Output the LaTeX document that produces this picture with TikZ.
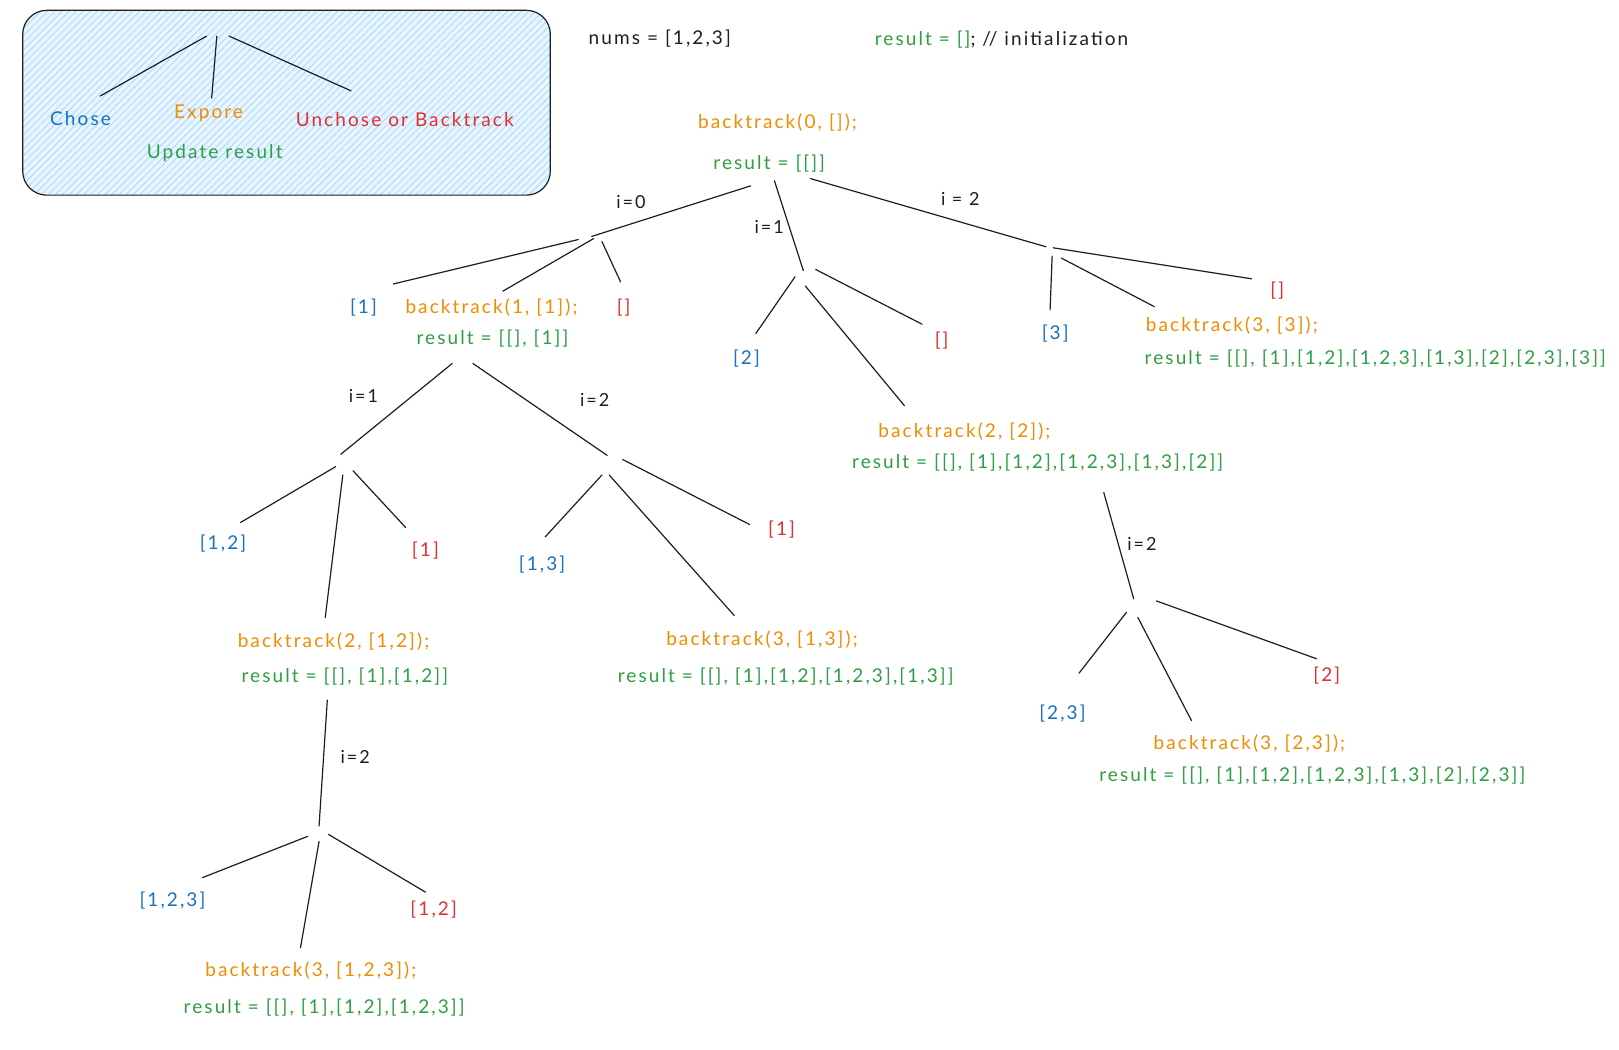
\documentclass[tikz,border=0pt]{standalone}
\usepackage{fontspec}
\setmainfont[LetterSpace=11]{Lato}
\usetikzlibrary{patterns.meta}
\definecolor{cblue}{HTML}{1971C2}
\definecolor{corange}{HTML}{F08C00}
\definecolor{cgreen}{HTML}{2F9E44}
\definecolor{cred}{HTML}{E03131}
\definecolor{cink}{HTML}{1E1E1E}
\definecolor{hatch}{HTML}{A5D8FF}
\begin{document}
\begin{tikzpicture}[x=1.0325pt,y=-1.0325pt,
  txt/.style={font=\fontsize{19}{22}\selectfont,inner sep=0pt,anchor=center},
  lbl/.style={txt,text=cink,font=\fontsize{18}{21}\selectfont},
  chosen/.style={txt,text=cblue},
  explore/.style={txt,text=corange},
  upd/.style={txt,text=cgreen},
  unchosen/.style={txt,text=cred},
  edge/.style={draw=cink,line width=1.2pt,line cap=round}]
\useasboundingbox (0,0) rectangle (1568,1016);
\fill[white] (0,0) rectangle (1568,1016);
% legend box
\path[fill=hatch!25,rounded corners=24] (22,10) rectangle (533,189);
\path[pattern={Lines[angle=45,distance=5pt,line width=0.8pt]},pattern color=hatch,rounded corners=24] (22,10) rectangle (533,189);
\draw[cink,line width=1.2pt,rounded corners=24] (22,10) rectangle (533,189);
\node[chosen] (lgC) at (78,115) {Chose};
\node[explore] (lgE) at (202,110) {Expore};
\node[unchosen] (lgU) at (392,116) {Unchose or Backtrack};
\node[upd] (lgR) at (208,148) {Update result};
\coordinate (lgT1) at (200,35); \coordinate (lgT2) at (210,35); \coordinate (lgT3) at (222,35);
\coordinate (lgE1) at (97,93); \coordinate (lgE2) at (205,95); \coordinate (lgE3) at (340,88);
\draw[edge] (lgT1) -- (lgE1);
\draw[edge] (lgT2) -- (lgE2);
\draw[edge] (lgT3) -- (lgE3);
% header
\node[txt,text=cink] (nums) at (639,37) {nums = [1,2,3]};
\node[txt,text=cink] (init) at (970,38) {\textcolor{cgreen}{result = []}; // initialization};
% root
\node[explore] (r0) at (753,119) {backtrack(0, []);};
\node[upd] (r0r) at (745,158) {result = [[]]};
% level 1 junctions
\coordinate (jA) at (573,229);
\coordinate (jB) at (778,262);
\coordinate (jC) at (1013,239);
\coordinate (r0a) at (727,180); \coordinate (r0b) at (750,175); \coordinate (r0c) at (785,173);
\draw[edge] (r0a) -- (jA);
\node[lbl] (l0) at (611,196) {i=0};
\draw[edge] (r0b) -- (jB);
\node[lbl] (l1) at (745,220) {i=1};
\draw[edge] (r0c) -- (jC);
\node[lbl] (l2) at (930,193) {i = 2};
% children of A
\node[chosen] (a1) at (352,298) {[1]};
\node[explore] (a2) at (476,298) {backtrack(1, [1]);};
\node[upd] (a2r) at (477,328) {result = [[], [1]]};
\node[unchosen] (a3) at (604,298) {[]};
\coordinate (a1e) at (381,275); \coordinate (a2e) at (487,282); \coordinate (a3e) at (601,273);
\coordinate (jA1) at (560,232); \coordinate (jA2) at (575,231); \coordinate (jA3) at (583,234);
\draw[edge] (jA1) -- (a1e);
\draw[edge] (jA2) -- (a2e);
\draw[edge] (jA3) -- (a3e);
% children of B
\node[chosen] (b1) at (723,347) {[2]};
\node[explore] (b2) at (934,418) {backtrack(2, [2]);};
\node[upd] (b2r) at (1005,448) {result = [[], [1],[1,2],[1,2,3],[1,3],[2]]};
\node[unchosen] (b3) at (912,330) {[]};
\coordinate (jB1) at (770,268); \coordinate (jB2) at (780,277); \coordinate (jB3) at (790,261);
\coordinate (b1e) at (732,323); \coordinate (b2e) at (876,393); \coordinate (b3e) at (893,314);
\draw[edge] (jB1) -- (b1e);
\draw[edge] (jB2) -- (b2e);
\draw[edge] (jB3) -- (b3e);
% children of C
\node[chosen] (c1) at (1022,323) {[3]};
\node[explore] (c2) at (1193,315) {backtrack(3, [3]);};
\node[upd] (c2r) at (1332,347) {result = [[], [1],[1,2],[1,2,3],[1,3],[2],[2,3],[3]]};
\node[unchosen] (c3) at (1237,281) {[]};
\coordinate (jC1) at (1019,248); \coordinate (jC2) at (1028,250); \coordinate (jC3) at (1020,240);
\coordinate (c1e) at (1017,300); \coordinate (c2e) at (1118,297); \coordinate (c3e) at (1212,270);
\draw[edge] (jC1) -- (c1e);
\draw[edge] (jC2) -- (c2e);
\draw[edge] (jC3) -- (c3e);
% from result [[],[1]]
\coordinate (a2s1) at (438,352); \coordinate (a2s2) at (458,352);
\coordinate (jD) at (330,440); \coordinate (jE) at (588,441);
\draw[edge] (a2s1) -- (jD);
\draw[edge] (a2s2) -- (jE);
\node[lbl] (l11) at (352,383) {i=1};
\node[lbl] (l12) at (576,387) {i=2};
% children of D
\node[chosen] (d1) at (216,526) {[1,2]};
\node[explore] (d2) at (323,621) {backtrack(2, [1,2]);};
\node[upd] (d2r) at (334,655) {result = [[], [1],[1,2]]};
\node[unchosen] (d3) at (412,533) {[1]};
\coordinate (jD1) at (325,452); \coordinate (jD2) at (332,460); \coordinate (jD3) at (342,456);
\coordinate (d1e) at (233,506); \coordinate (d2e) at (315,598); \coordinate (d3e) at (393,511);
\draw[edge] (jD1) -- (d1e);
\draw[edge] (jD2) -- (d2e);
\draw[edge] (jD3) -- (d3e);
% children of E
\node[chosen] (e1) at (525,547) {[1,3]};
\node[explore] (e2) at (738,619) {backtrack(3, [1,3]);};
\node[upd] (e2r) at (761,655) {result = [[], [1],[1,2],[1,2,3],[1,3]]};
\node[unchosen] (e3) at (757,513) {[1]};
\coordinate (jE1) at (583,460); \coordinate (jE2) at (590,460); \coordinate (jE3) at (603,445);
\coordinate (e1e) at (528,520); \coordinate (e2e) at (711,596); \coordinate (e3e) at (726,508);
\draw[edge] (jE1) -- (e1e);
\draw[edge] (jE2) -- (e2e);
\draw[edge] (jE3) -- (e3e);
% from result [[],[1],[1,2]]
\coordinate (d2s) at (317,678); \coordinate (jF) at (309,800);
\draw[edge] (d2s) -- (jF);
\node[lbl] (l22) at (344,733) {i=2};
\node[chosen] (f1) at (167,872) {[1,2,3]};
\node[explore] (f2) at (301,940) {backtrack(3, [1,2,3]);};
\node[upd] (f2r) at (314,976) {result = [[], [1],[1,2],[1,2,3]]};
\node[unchosen] (f3) at (420,881) {[1,2]};
\coordinate (jF1) at (298,810); \coordinate (jF2) at (309,815); \coordinate (jF3) at (318,808);
\coordinate (f1e) at (196,850); \coordinate (f2e) at (291,918); \coordinate (f3e) at (412,864);
\draw[edge] (jF1) -- (f1e);
\draw[edge] (jF2) -- (f2e);
\draw[edge] (jF3) -- (f3e);
% from result [[],..,[2]]
\coordinate (b2s) at (1069,477); \coordinate (jG) at (1098,580);
\draw[edge] (b2s) -- (jG);
\node[lbl] (l32) at (1106,527) {i=2};
\node[chosen] (g1) at (1029,691) {[2,3]};
\node[explore] (g2) at (1210,720) {backtrack(3, [2,3]);};
\node[upd] (g2r) at (1271,751) {result = [[], [1],[1,2],[1,2,3],[1,3],[2],[2,3]]};
\node[unchosen] (g3) at (1285,654) {[2]};
\coordinate (jG1) at (1091,593); \coordinate (jG2) at (1102,598); \coordinate (jG3) at (1120,582);
\coordinate (g1e) at (1045,652); \coordinate (g2e) at (1154,698); \coordinate (g3e) at (1275,638);
\draw[edge] (jG1) -- (g1e);
\draw[edge] (jG2) -- (g2e);
\draw[edge] (jG3) -- (g3e);
\end{tikzpicture}
\end{document}
